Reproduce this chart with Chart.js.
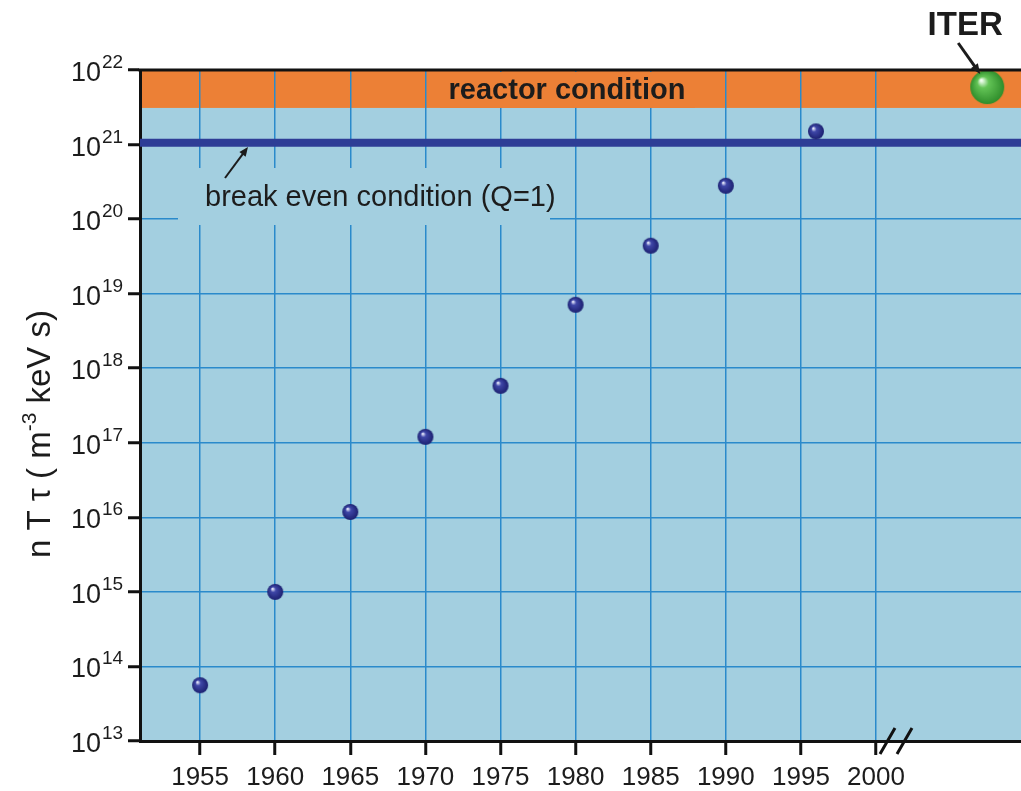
<!DOCTYPE html>
<html>
<head>
<meta charset="utf-8">
<script src="https://cdn.jsdelivr.net/npm/chart.js@4.4.1/dist/chart.umd.min.js"></script>
<style>
  html, body { margin: 0; padding: 0; background: #fff; }
  #chart { display: block; }
</style>
</head>
<body>
<canvas id="chart" width="1021" height="791"></canvas>
<script>
// values
const years = [1955, 1960, 1965, 1970, 1975, 1980, 1985, 1990, 1996];
const nTtau = [5.6e13, 1.0e15, 1.18e16, 1.2e17, 5.8e17, 7.1e18, 4.4e19, 2.8e20, 1.5e21];
const iterYear = [2007.4];
const iterValue = [5.9e21];
const breakEvenValue = 1.06e21;
const reactorBand = [3.1e21, 1e22];
const xTickYears = [1955, 1960, 1965, 1970, 1975, 1980, 1985, 1990, 1995, 2000];
const yTickExps = [13, 14, 15, 16, 17, 18, 19, 20, 21, 22];
const xRange = [1951, 2009.65];
const yRange = [1e13, 1e22];

const FONT = '"Liberation Sans", Arial, Helvetica, sans-serif';
const INK = '#1c1c1c';
const BG_BLUE = '#a3cfe0';
const ORANGE = '#ec8036';
const GRID = '#2a8acb';

function sphere(r, light, mid, dark) {
    const c = document.createElement('canvas');
    c.width = c.height = 2 * r + 2;
    const g = c.getContext('2d');
    const cx = r + 1, cy = r + 1;
    const grad = g.createRadialGradient(cx - r * 0.35, cy - r * 0.4, r * 0.05, cx, cy, r);
    grad.addColorStop(0, light);
    grad.addColorStop(0.3, mid);
    grad.addColorStop(1, dark);
    g.fillStyle = grad;
    g.beginPath();
    g.arc(cx, cy, r, 0, Math.PI * 2);
    g.fill();
    return c;
}

const blueBall = sphere(8, '#eef0ff', '#3f47a8', '#1c2070');
const greenBall = sphere(17, '#f2fff0', '#63c456', '#2f8d2b');

function arrow(ctx, x1, y1, x2, y2, w, head) {
    const a = Math.atan2(y2 - y1, x2 - x1);
    ctx.save();
    ctx.strokeStyle = INK;
    ctx.fillStyle = INK;
    ctx.lineWidth = w;
    ctx.beginPath();
    ctx.moveTo(x1, y1);
    ctx.lineTo(x2 - Math.cos(a) * head * 0.8, y2 - Math.sin(a) * head * 0.8);
    ctx.stroke();
    ctx.beginPath();
    ctx.moveTo(x2, y2);
    ctx.lineTo(x2 - head * Math.cos(a - 0.4), y2 - head * Math.sin(a - 0.4));
    ctx.lineTo(x2 - head * Math.cos(a + 0.4), y2 - head * Math.sin(a + 0.4));
    ctx.closePath();
    ctx.fill();
    ctx.restore();
}

const backgroundPlugin = {
    id: 'background',
    beforeDraw(chart) {
        const { ctx, chartArea: a, scales: { y } } = chart;
        ctx.save();
        ctx.fillStyle = '#fff';
        ctx.fillRect(0, 0, chart.width, chart.height);
        ctx.fillStyle = BG_BLUE;
        ctx.fillRect(a.left, a.top, a.right - a.left, a.bottom - a.top);
        const yTop = y.getPixelForValue(reactorBand[1]);
        const yBot = y.getPixelForValue(reactorBand[0]);
        ctx.fillStyle = ORANGE;
        ctx.fillRect(a.left, yTop, a.right - a.left, yBot - yTop);
        ctx.restore();
    },
    beforeDatasetsDraw(chart) {
        const { ctx, scales: { y } } = chart;
        ctx.save();
        // patches that hide the grid behind the two labels
        const yTop = y.getPixelForValue(reactorBand[1]);
        const yBot = y.getPixelForValue(reactorBand[0]);
        ctx.fillStyle = ORANGE;
        ctx.fillRect(440, yTop + 2, 255, yBot - yTop - 2);
        ctx.fillStyle = BG_BLUE;
        ctx.fillRect(178, 168, 372, 57);
        ctx.restore();
    },
    afterDraw(chart) {
        const { ctx, chartArea: a, scales: { x, y } } = chart;
        ctx.save();

        // top frame line
        ctx.strokeStyle = '#111';
        ctx.lineWidth = 3;
        ctx.beginPath();
        ctx.moveTo(a.left - 1.5, a.top);
        ctx.lineTo(a.right, a.top);
        ctx.stroke();

        // axis break marks
        ctx.lineWidth = 3;
        ctx.beginPath();
        ctx.moveTo(880, 754); ctx.lineTo(895, 728);
        ctx.moveTo(897, 754); ctx.lineTo(912, 728);
        ctx.stroke();

        // y tick labels 10^n
        ctx.fillStyle = INK;
        yTickExps.forEach(e => {
            const py = y.getPixelForValue(Math.pow(10, e));
            ctx.font = '27px ' + FONT;
            ctx.textAlign = 'right';
            ctx.textBaseline = 'alphabetic';
            ctx.fillText('10', 101, py + 11);
            ctx.font = '19px ' + FONT;
            ctx.textAlign = 'left';
            ctx.fillText(String(e), 102, py - 2);
        });

        // y axis title
        ctx.save();
        ctx.translate(50, 434);
        ctx.rotate(-Math.PI / 2);
        ctx.textAlign = 'left';
        ctx.textBaseline = 'alphabetic';
        const p1 = 'n T \u03c4 ( m', sup = '-3', p3 = ' keV s)';
        ctx.font = '33px ' + FONT;
        const w1 = ctx.measureText(p1).width, w3 = ctx.measureText(p3).width;
        ctx.font = '21px ' + FONT;
        const w2 = ctx.measureText(sup).width;
        let sx = -(w1 + w2 + w3) / 2;
        ctx.font = '33px ' + FONT;
        ctx.fillText(p1, sx, 0);
        ctx.font = '21px ' + FONT;
        ctx.fillText(sup, sx + w1, -14);
        ctx.font = '33px ' + FONT;
        ctx.fillText(p3, sx + w1 + w2, 0);
        ctx.restore();

        // reactor condition
        const bandMid = (y.getPixelForValue(reactorBand[0]) + y.getPixelForValue(reactorBand[1])) / 2;
        ctx.font = 'bold 29px ' + FONT;
        ctx.textAlign = 'center';
        ctx.textBaseline = 'alphabetic';
        ctx.fillText('reactor condition', 567, bandMid + 10);

        // break even label
        ctx.font = '29px ' + FONT;
        ctx.textAlign = 'left';
        ctx.fillText('break even condition (Q=1)', 205, 206);
        arrow(ctx, 225, 178, 248, 147, 2, 10);

        // ITER label
        const ix = x.getPixelForValue(iterYear[0]);
        const iy = y.getPixelForValue(iterValue[0]);
        ctx.font = 'bold 33px ' + FONT;
        ctx.textAlign = 'center';
        ctx.fillText('ITER', ix - 22, 35);
        arrow(ctx, ix - 29, 43, ix - 7, iy - 13, 3, 11);

        ctx.restore();
    }
};

new Chart(document.getElementById('chart'), {
    type: 'scatter',
    data: {
        datasets: [
            {
                label: 'experiments',
                data: years.map((yr, i) => ({ x: yr, y: nTtau[i] })),
                pointStyle: blueBall,
                pointRadius: 8,
                order: 0
            },
            {
                label: 'ITER',
                data: iterYear.map((yr, i) => ({ x: yr, y: iterValue[i] })),
                pointStyle: greenBall,
                pointRadius: 17,
                order: 1
            },
            {
                type: 'line',
                label: 'break even',
                data: xRange.map(v => ({ x: v, y: breakEvenValue })),
                borderColor: '#2e3d96',
                borderWidth: 8,
                pointRadius: 0,
                showLine: true,
                order: 2
            }
        ]
    },
    options: {
        responsive: false,
        animation: false,
        layout: { autoPadding: false, padding: { top: 70, left: 0, right: 0, bottom: 0 } },
        plugins: {
            legend: { display: false },
            tooltip: { enabled: false }
        },
        scales: {
            x: {
                type: 'linear',
                min: xRange[0],
                max: xRange[1],
                afterBuildTicks: s => { s.ticks = xTickYears.map(v => ({ value: v })); },
                afterFit: s => { s.height = 50; s.paddingLeft = 0; s.paddingRight = 0; },
                grid: { color: GRID, lineWidth: 1.5, tickLength: 14, tickColor: '#111', tickWidth: 3 },
                border: { color: '#111', width: 3 },
                ticks: {
                    color: INK,
                    padding: 7,
                    maxRotation: 0,
                    font: { family: FONT, size: 26 },
                    callback: v => String(v)
                }
            },
            y: {
                type: 'logarithmic',
                min: yRange[0],
                max: yRange[1],
                afterBuildTicks: s => { s.ticks = yTickExps.map(e => ({ value: Math.pow(10, e) })); },
                afterFit: s => { s.width = 140; s.paddingTop = 0; s.paddingBottom = 0; },
                grid: { color: GRID, lineWidth: 1.5, tickLength: 12, tickColor: '#111', tickWidth: 3 },
                border: { color: '#111', width: 3 },
                ticks: { display: false }
            }
        }
    },
    plugins: [backgroundPlugin]
});
</script>
</body>
</html>
